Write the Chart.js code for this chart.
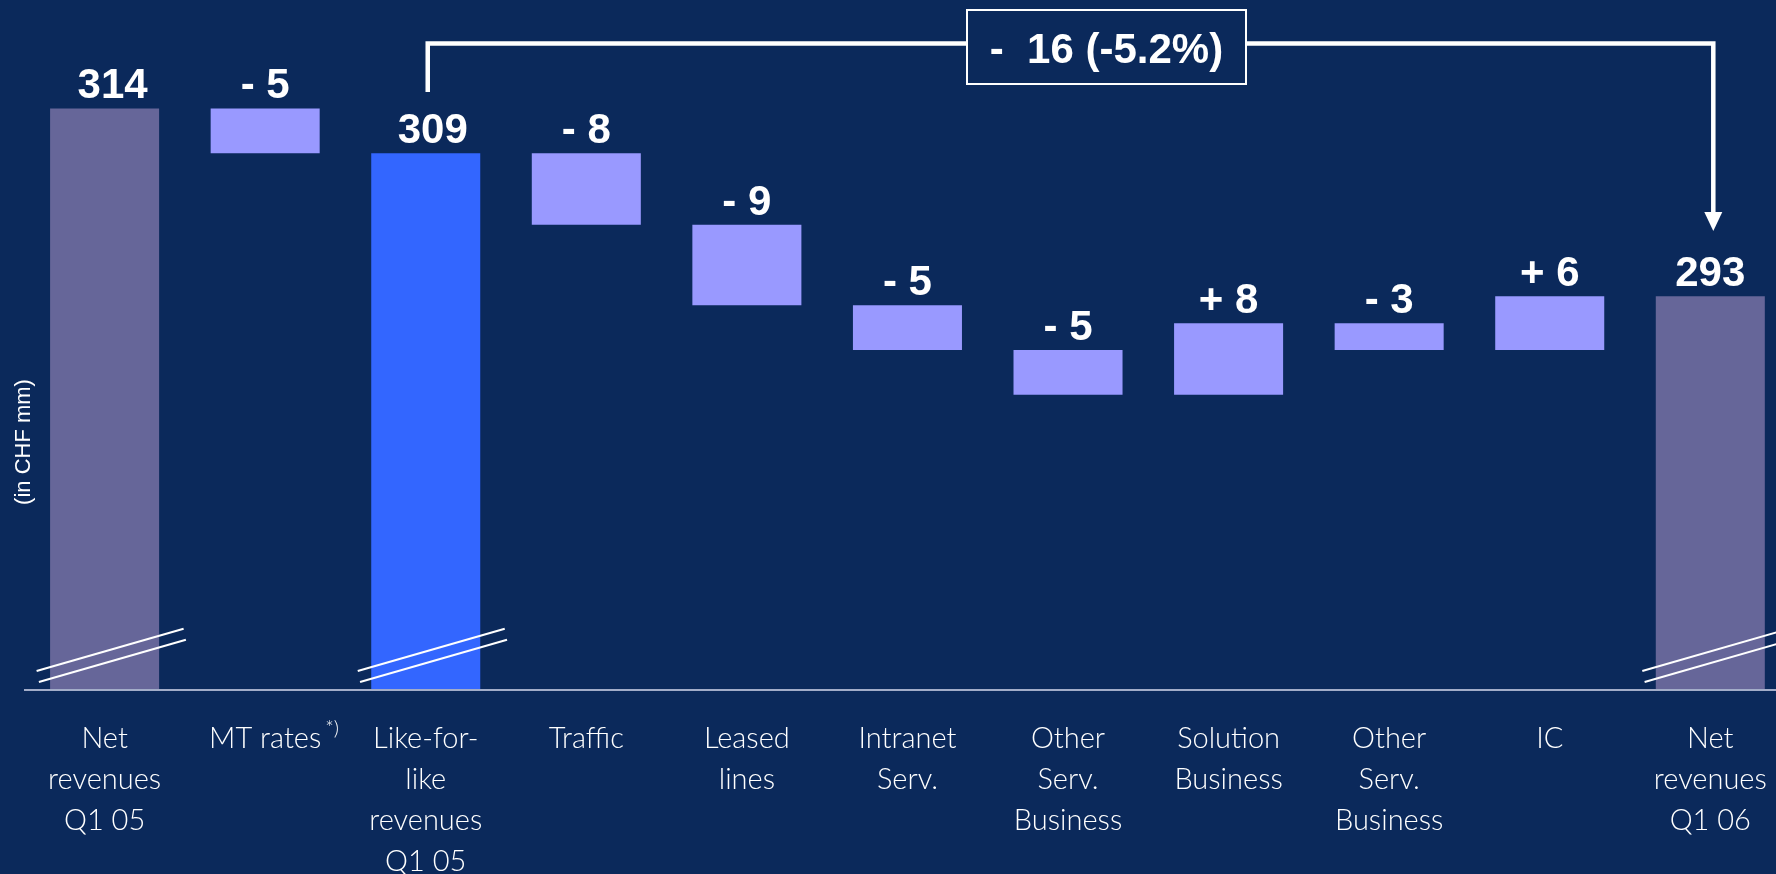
<!DOCTYPE html>
<html>
<head>
<meta charset="utf-8">
<script src="https://cdn.jsdelivr.net/npm/chart.js@4.4.1/dist/chart.umd.min.js"></script>
<style>
  html, body { margin: 0; padding: 0; background: #0b295b; overflow: hidden; }
  #wrap { position: relative; width: 1776px; height: 874px; }
</style>
</head>
<body>
<div id="wrap"><canvas id="c"></canvas></div>
<script>
// Revenue bridge, CHF mm
const categories = [
  ['Net', 'revenues', 'Q1 05'],
  ['MT rates'],
  ['Like-for-', 'like', 'revenues', 'Q1 05'],
  ['Traffic'],
  ['Leased', 'lines'],
  ['Intranet', 'Serv.'],
  ['Other', 'Serv.', 'Business'],
  ['Solution', 'Business'],
  ['Other', 'Serv.', 'Business'],
  ['IC'],
  ['Net', 'revenues', 'Q1 06']
];
// 'total' bars stand on the (broken) axis, 'delta' bars float on the running total
const barKinds = ['total', 'delta', 'total', 'delta', 'delta', 'delta', 'delta', 'delta', 'delta', 'delta', 'total'];
const barValues = [314, -5, 309, -8, -9, -5, -5, 8, -3, 6, 293];
const footnoteIndex = 1;          // category carrying the "*)" footnote mark
const bridgeFrom = 2, bridgeTo = 10; // bracket from like-for-like to final revenues
const axisMin = 249, axisMax = 325;

const BG = '#0b295b';
const COLOR_TOTAL = '#666699';
const COLOR_LFL = '#3366ff';
const COLOR_DELTA = '#9999ff';

// floating [low, high] pairs built from the running total
const floating = [];
let running = 0;
barValues.forEach((v, i) => {
  if (barKinds[i] === 'total') {
    running = v;
    floating.push([axisMin, v]);
  } else {
    floating.push([running, running + v]);
    running += v;
  }
});
const barColors = barKinds.map((k, i) => k === 'delta' ? COLOR_DELTA : (i === bridgeFrom ? COLOR_LFL : COLOR_TOTAL));
const valueText = barValues.map((v, i) => barKinds[i] === 'total' ? String(v) : (v < 0 ? '- ' : '+ ') + Math.abs(v));

const diff = barValues[bridgeTo] - barValues[bridgeFrom];
const bridgeText = (diff < 0 ? '-  ' : '+  ') + Math.abs(diff) + ' (' + (diff / barValues[bridgeFrom] * 100).toFixed(1) + '%)';

const TICK_FONT = { family: 'Lato, "Open Sans", sans-serif', weight: 300, size: 29, lineHeight: 1.42 };
// the two opening totals sit slightly right of their bar centres
const labelNudge = { 0: 8, 2: 7 };

const decorations = {
  id: 'decorations',
  afterDatasetsDraw(chart) {
    const ctx = chart.ctx;
    const bars = chart.getDatasetMeta(0).data;
    const area = chart.chartArea;
    ctx.save();

    // axis break marks on the bars that stand on the axis
    ctx.strokeStyle = '#ffffff';
    ctx.lineWidth = 2;
    bars.forEach((b, i) => {
      if (barKinds[i] !== 'total') return;
      const x0 = b.x - 68, x1 = b.x + 79;
      [[0, 0], [2.3, 11]].forEach(([dx, dy]) => {
        ctx.beginPath();
        ctx.moveTo(x0 + dx, area.bottom - 19 + dy);
        ctx.lineTo(x1 + dx, area.bottom - 61.3 + dy);
        ctx.stroke();
      });
    });

    // baseline
    ctx.strokeStyle = '#a3adc9';
    ctx.lineWidth = 2;
    ctx.beginPath();
    ctx.moveTo(24, area.bottom);
    ctx.lineTo(chart.width, area.bottom);
    ctx.stroke();

    // value labels
    ctx.fillStyle = '#ffffff';
    ctx.font = 'bold 42px "Liberation Sans", Arial, sans-serif';
    ctx.textAlign = 'center';
    ctx.textBaseline = 'alphabetic';
    bars.forEach((b, i) => {
      const top = Math.min(b.y, b.base);
      ctx.fillText(valueText[i], b.x + (labelNudge[i] || 0), top - 10);
    });

    // bracket with arrow
    const xL = bars[bridgeFrom].x + 2, xR = bars[bridgeTo].x + 3;
    const yLine = 43.5;
    ctx.strokeStyle = '#ffffff';
    ctx.lineWidth = 4.5;
    ctx.lineJoin = 'miter';
    ctx.beginPath();
    ctx.moveTo(xL, 92);
    ctx.lineTo(xL, yLine);
    ctx.lineTo(xR, yLine);
    ctx.lineTo(xR, 214);
    ctx.stroke();
    ctx.fillStyle = '#ffffff';
    ctx.beginPath();
    ctx.moveTo(xR - 9, 212);
    ctx.lineTo(xR + 9, 212);
    ctx.lineTo(xR, 231);
    ctx.closePath();
    ctx.fill();

    // boxed change label
    const bx = 967, by = 10, bw = 279, bh = 74;
    ctx.fillStyle = BG;
    ctx.fillRect(bx, by, bw, bh);
    ctx.strokeStyle = '#ffffff';
    ctx.lineWidth = 2;
    ctx.strokeRect(bx, by, bw, bh);
    ctx.fillStyle = '#ffffff';
    ctx.font = 'bold 42px "Liberation Sans", Arial, sans-serif';
    ctx.textAlign = 'center';
    ctx.fillText(bridgeText, bx + bw / 2, 63);

    // footnote mark after "MT rates"
    ctx.font = '300 29px Lato, "Open Sans", sans-serif';
    const fb = bars[footnoteIndex];
    const w = ctx.measureText(categories[footnoteIndex][0]).width;
    ctx.font = '300 20px Lato, "Open Sans", sans-serif';
    ctx.textAlign = 'left';
    ctx.fillText('*)', fb.x + w / 2 + 4, 735);

    // unit caption
    ctx.translate(24, 442);
    ctx.rotate(-Math.PI / 2);
    ctx.font = '22px "Liberation Sans", Arial, sans-serif';
    ctx.textAlign = 'center';
    ctx.textBaseline = 'middle';
    ctx.fillText('(in CHF mm)', 0, 0);

    ctx.restore();
  }
};

new Chart(document.getElementById('c'), {
  type: 'bar',
  data: {
    labels: categories,
    datasets: [{
      data: floating,
      backgroundColor: barColors,
      borderWidth: 0,
      categoryPercentage: 1,
      barPercentage: 0.679,
      clip: false
    }]
  },
  options: {
    responsive: true,
    maintainAspectRatio: false,
    animation: false,
    layout: { padding: { left: 104.6, right: 65.7, top: 10, bottom: 0 } },
    plugins: { legend: { display: false }, tooltip: { enabled: false } },
    scales: {
      x: {
        offset: false,
        grid: { display: false, drawTicks: false },
        border: { display: false },
        ticks: { color: '#ffffff', font: TICK_FONT, padding: 28, maxRotation: 0, autoSkip: false },
        afterFit(s) {
          s.height = 184;
          s.paddingLeft = 0;
          s.paddingRight = 0;
        }
      },
      y: {
        display: false,
        min: axisMin,
        max: axisMax
      }
    }
  },
  plugins: [decorations]
});
</script>
</body>
</html>
